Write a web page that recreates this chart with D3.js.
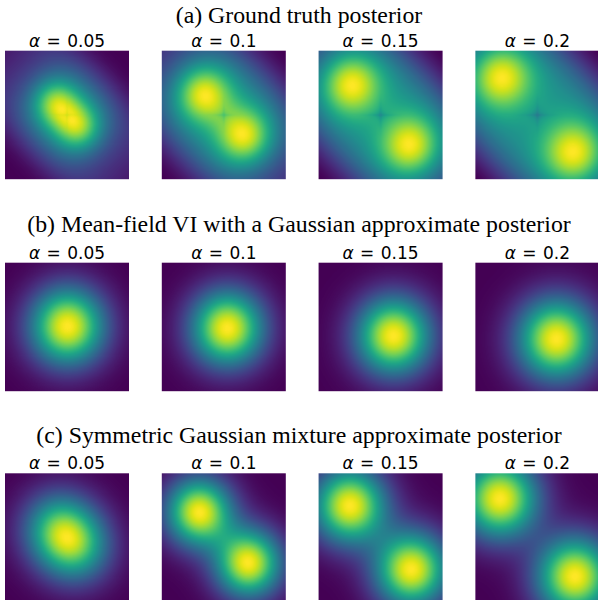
<!DOCTYPE html>
<html>
<head>
<meta charset="utf-8">
<script src="https://cdn.jsdelivr.net/npm/d3@7"></script>
<style>
  body { margin: 0; background: #fff; }
  svg { display: block; }
  .row-title { font-family: "Liberation Serif", "Times New Roman", serif; font-size: 23.8px; fill: #000; }
  .alpha { font-family: "DejaVu Sans", sans-serif; font-size: 17px; fill: #000; }
</style>
</head>
<body>
<svg id="chart"></svg>
<script>
// column labels
const alphas = [0.05, 0.1, 0.15, 0.2]
const rowTitles = [
  '(a) Ground truth posterior',
  '(b) Mean-field VI with a Gaussian approximate posterior',
  '(c) Symmetric Gaussian mixture approximate posterior'
]

// (a) ground truth: two modes on the diagonal plus a flat band joining them, dip in the middle
const gtOffset = [0.18, 0.33, 0.49, 0.61]
const gtSd = [0.27, 0.32, 0.35, 0.37]
const gtBand = [0.65, 0.75, 0.85, 0.88]
const gtBandAcross = [0.85, 1.0, 1.05, 1.1]
const gtBandAlong = [0.8, 1.0, 1.2, 1.3]
const gtDip = [0.1, 0.18, 0.3, 0.32]

// (b) mean-field gaussian: centre and sd
const mfX = [0.01, 0.06, 0.21, 0.31]
const mfY = [-0.01, 0.02, 0.14, 0.19]
const mfSd = [0.42, 0.41, 0.42, 0.44]

// (c) symmetric mixture: mode offset and sd of each component
const mixOffset = [0.15, 0.4, 0.5, 0.61]
const mixSd = [0.4, 0.37, 0.41, 0.43]

const width = 598, height = 600
const cell = { w: 124, h: 128.5 }
const rowTop = [50.7, 262.7, 473.3]
const res = 124

const svg = d3.select('#chart').attr('width', width).attr('height', height)

const col = d3.scaleBand()
  .domain(alphas)
  .range([5, 599.4])
  .paddingInner(0.209)

// grid coords -> [-1, 1]
const gx = d3.scaleLinear().domain([0, res - 1]).range([-1, 1])
const color = d3.scaleSequential(d3.interpolateViridis).domain([0, 1])

function gauss(x, y, cx, cy, s) {
  return Math.exp(-((x - cx) ** 2 + (y - cy) ** 2) / (2 * s * s))
}

const density = [
  (x, y, i) => {
    const m = gtOffset[i], s = gtSd[i]
    const u = (x + y) / Math.SQRT2, v = (x - y) / Math.SQRT2
    const modes = gauss(x, y, -m, -m, s) + gauss(x, y, m, m, s)
    const band = gtBand[i] * Math.exp(-((v / gtBandAcross[i]) ** 4)) *
      Math.exp(-(u * u) / (2 * gtBandAlong[i] ** 2))
    const star = (Math.sqrt(Math.abs(x)) + Math.sqrt(Math.abs(y))) ** 2
    return (modes + band) * (1 - gtDip[i] * Math.exp(-star / 0.15))
  },
  (x, y, i) => gauss(x, y, mfX[i], mfY[i], mfSd[i]),
  (x, y, i) => {
    const m = mixOffset[i], s = mixSd[i]
    return gauss(x, y, -m, -m, s) + gauss(x, y, m, m, s)
  }
]

function grid(r, i) {
  const vals = new Float64Array(res * res)
  for (let yy = 0; yy < res; yy++) {
    for (let xx = 0; xx < res; xx++) {
      vals[yy * res + xx] = density[r](gx(xx), gx(yy), i)
    }
  }
  const [lo, hi] = d3.extent(vals)
  const norm = d3.scaleLinear().domain([lo, hi]).range([0, 1])
  return vals.map(norm)
}

function panelImage(vals) {
  const canvas = document.createElement('canvas')
  canvas.width = res
  canvas.height = res
  const ctx = canvas.getContext('2d')
  const img = ctx.createImageData(res, res)
  vals.forEach((v, k) => {
    const c = d3.rgb(color(v))
    img.data[k * 4] = c.r
    img.data[k * 4 + 1] = c.g
    img.data[k * 4 + 2] = c.b
    img.data[k * 4 + 3] = 255
  })
  ctx.putImageData(img, 0, 0)
  return canvas.toDataURL()
}

rowTitles.forEach((title, r) => {
  const top = rowTop[r]
  svg.append('text')
    .attr('class', 'row-title')
    .attr('x', width / 2)
    .attr('y', top - (r === 0 ? 28 : 30.5))
    .attr('text-anchor', 'middle')
    .text(title)

  const g = svg.append('g').attr('class', 'row')
  alphas.forEach((a, i) => {
    const x0 = col(a)
    // mathtext-like spacing around '='
    const lab = g.append('text')
      .attr('class', 'alpha')
      .attr('x', x0 + cell.w / 2)
      .attr('y', top - 4)
      .attr('text-anchor', 'middle')
    lab.append('tspan').attr('font-style', 'italic').text('α')
    lab.append('tspan').attr('dx', 1).text(' = ')
    lab.append('tspan').attr('dx', 1).text(a)

    g.append('image')
      .attr('x', x0)
      .attr('y', top)
      .attr('width', cell.w)
      .attr('height', cell.h)
      .attr('preserveAspectRatio', 'none')
      .attr('href', panelImage(grid(r, i)))
  })
})
</script>
</body>
</html>
